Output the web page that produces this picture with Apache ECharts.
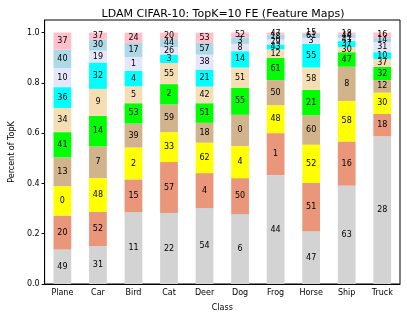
<!DOCTYPE html>
<html>
<head>
<meta charset="utf-8">
<script src="https://cdn.jsdelivr.net/npm/echarts@6/dist/echarts.min.js"></script>
<style>html,body{margin:0;padding:0;background:#fff;}#c{width:407px;height:317px;}</style>
</head>
<body>
<div id="c"></div>
<script>
var classes = ['Plane','Car','Bird','Cat','Deer','Dog','Frog','Horse','Ship','Truck'];
var yTicks = [0, 0.2, 0.4, 0.6, 0.8, 1.0];

// share of TopK per rank (bottom to top), one value per class
var rank1Share  = [0.137,0.151,0.286,0.282,0.302,0.278,0.433,0.209,0.391,0.587];
var rank2Share  = [0.135,0.136,0.130,0.203,0.139,0.143,0.167,0.193,0.176,0.090];
var rank3Share  = [0.117,0.134,0.127,0.119,0.121,0.128,0.111,0.152,0.161,0.084];
var rank4Share  = [0.115,0.126,0.095,0.110,0.079,0.124,0.100,0.117,0.136,0.050];
var rank5Share  = [0.100,0.122,0.081,0.081,0.078,0.108,0.088,0.101,0.058,0.052];
var rank6Share  = [0.096,0.107,0.067,0.084,0.066,0.080,0.034,0.089,0.020,0.032];
var rank7Share  = [0.083,0.105,0.062,0.033,0.068,0.065,0.020,0.094,0.024,0.027];
var rank8Share  = [0.076,0.047,0.055,0.030,0.059,0.029,0.019,0.024,0.013,0.040];
var rank9Share  = [0.073,0.043,0.056,0.032,0.047,0.026,0.020,0.016,0.013,0.016];
var rank10Share = [0.068,0.029,0.041,0.026,0.041,0.019,0.008,0.005,0.008,0.022];

// feature-map index labels per rank
var rank1Label  = [49,31,11,22,54,6,44,47,63,28];
var rank2Label  = [20,52,15,57,4,50,1,51,16,18];
var rank3Label  = [0,48,2,33,62,4,48,52,58,30];
var rank4Label  = [13,7,39,59,18,0,50,60,8,12];
var rank5Label  = [41,14,53,2,51,55,61,21,47,32];
var rank6Label  = [34,9,5,55,42,51,12,58,30,37];
var rank7Label  = [36,32,4,3,21,14,43,55,37,10];
var rank8Label  = [10,19,1,26,38,8,29,3,41,31];
var rank9Label  = [40,30,17,44,57,3,18,61,44,14];
var rank10Label = [37,37,24,20,53,52,47,15,18,16];

var rankColors = ['#d3d3d3','#e9967a','#ffff00','#d2b48c','#00ff00','#f5deb3','#00ffff','#e6e6fa','#add8e6','#ffc0cb'];

var shares = [rank1Share,rank2Share,rank3Share,rank4Share,rank5Share,rank6Share,rank7Share,rank8Share,rank9Share,rank10Share];
var labels = [rank1Label,rank2Label,rank3Label,rank4Label,rank5Label,rank6Label,rank7Label,rank8Label,rank9Label,rank10Label];

var FONT = 'DejaVu Sans';
var series = shares.map(function(vals, r){
  return {
    type: 'bar',
    stack: 'topk',
    barWidth: '50%',
    itemStyle: { color: rankColors[r] },
    label: {
      show: true,
      position: 'inside',
      color: '#000',
      fontFamily: FONT,
      fontSize: 8,
      formatter: function(p){ return String(labels[r][p.dataIndex]); }
    },
    data: vals
  };
});

var chart = echarts.init(document.getElementById('c'), null, {renderer: 'canvas'});
chart.setOption({
  animation: false,
  backgroundColor: '#fff',
  title: {
    text: 'LDAM CIFAR-10: TopK=10 FE (Feature Maps)',
    left: 218, top: 4, textAlign: 'center',
    textStyle: { fontFamily: FONT, fontSize: 11, fontWeight: 'normal', color: '#000' }
  },
  grid: { left: 36, right: 7, top: 20, bottom: 31, show: true, borderColor: '#000', borderWidth: 1, backgroundColor: 'transparent' },
  xAxis: {
    type: 'category',
    data: classes,
    name: 'Class',
    nameLocation: 'middle',
    nameGap: 20,
    nameTextStyle: { fontFamily: FONT, fontSize: 8, color: '#000' },
    axisLine: { lineStyle: { color: '#000', width: 1 } },
    axisTick: { alignWithLabel: true, length: 3, lineStyle: { color: '#000' } },
    axisLabel: { fontFamily: FONT, fontSize: 8, color: '#000', margin: 5, interval: 0 },
    splitLine: { show: false }
  },
  yAxis: {
    type: 'value',
    min: 0, max: 1.05,
    name: 'Percent of TopK',
    nameLocation: 'middle',
    nameGap: 27,
    nameTextStyle: { fontFamily: FONT, fontSize: 8, color: '#000' },
    axisLine: { show: true, lineStyle: { color: '#000', width: 1 } },
    axisTick: { show: true, length: 3, customValues: yTicks, lineStyle: { color: '#000' } },
    axisLabel: { fontFamily: FONT, fontSize: 8, color: '#000', margin: 5, customValues: yTicks,
      formatter: function(v){ return v.toFixed(1); } },
    splitLine: { show: false }
  },
  series: series
});
</script>
</body>
</html>
